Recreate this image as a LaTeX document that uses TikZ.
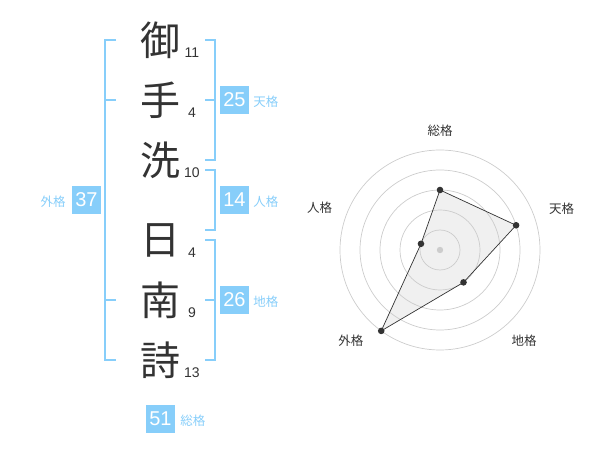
\documentclass[tikz,border=0pt]{standalone}
\usepackage{fontspec}
\setmainfont{Liberation Sans}
\newfontfamily\jpfont{Noto Sans CJK JP}
\usetikzlibrary{positioning}
\definecolor{kakublue}{HTML}{87CEFA}
\definecolor{inkgray}{HTML}{333333}
\definecolor{ringgray}{HTML}{CCCCCC}

\begin{document}
\begin{tikzpicture}[x=1pt,y=-1pt]
	\useasboundingbox (0,0) rectangle (600,470);

	\tikzstyle{kanji}=[text=inkgray,inner sep=0pt,
		font=\jpfont\fontsize{40}{40}\selectfont,
		node distance=60pt]
	\tikzstyle{strokes}=[text=inkgray,inner sep=0pt,
		font=\fontsize{14}{14}\selectfont]
	\tikzstyle{score}=[fill=kakublue,text=white,inner sep=0pt,
		minimum width=29pt,minimum height=28pt,
		font=\fontsize{20}{20}\selectfont]
	\tikzstyle{kind}=[text=kakublue,inner sep=0pt,
		font=\jpfont\fontsize{12.5}{13}\selectfont]
	\tikzstyle{axis}=[text=inkgray,inner sep=0pt,
		font=\jpfont\fontsize{12.5}{13}\selectfont]
	\tikzstyle{bracket}=[draw=kakublue,line width=2pt]

	% name
	\node[kanji]		(k1)	at (160,40)	{御};
	\node[kanji,below of=k1]	(k2)	{手};
	\node[kanji,below of=k2]	(k3)	{洗};
	\node[kanji]		(k4)	at (160,240)	{日};
	\node[kanji,below of=k4]	(k5)	{南};
	\node[kanji,below of=k5]	(k6)	{詩};

	\node[strokes]	(s1)	at (192,53)	{11};
	\node[strokes]	(s2)	at (192,113)	{4};
	\node[strokes]	(s3)	at (192,173)	{10};
	\node[strokes]	(s4)	at (192,253)	{4};
	\node[strokes]	(s5)	at (192,313)	{9};
	\node[strokes]	(s6)	at (192,373)	{13};

	% brackets
	\draw[bracket] (116,40) -- (105,40) -- (105,360) -- (116,360);
	\draw[bracket] (105,100) -- (116,100);
	\draw[bracket] (105,300) -- (116,300);
	\draw[bracket] (205,40) -- (215,40) -- (215,160) -- (205,160);
	\draw[bracket] (205,100) -- (215,100);
	\draw[bracket] (205,170) -- (215,170) -- (215,230) -- (205,230);
	\draw[bracket] (205,240) -- (215,240) -- (215,360) -- (205,360);
	\draw[bracket] (205,300) -- (215,300);

	% scores
	\node[score]	(ten)	at (234.5,100)	{25};
	\node[score]	(jin)	at (234.5,200)	{14};
	\node[score]	(chi)	at (234.5,300)	{26};
	\node[score]	(gai)	at (86.5,200)	{37};
	\node[score]	(sou)	at (160.5,419)	{51};
	\node[kind,right=4pt of ten.base east,anchor=base west]	{天格};
	\node[kind,right=4pt of jin.base east,anchor=base west]	{人格};
	\node[kind,right=4pt of chi.base east,anchor=base west]	{地格};
	\node[kind,left=6pt of gai.base west,anchor=base east]	{外格};
	\node[kind,right=5pt of sou.base east,anchor=base west]	{総格};

	% radar
	\begin{scope}[shift={(440,250)},yscale=-1]
		\coordinate (r1) at (90:60);
		\coordinate (r2) at (18:80);
		\coordinate (r3) at (-54:40);
		\coordinate (r4) at (-126:100);
		\coordinate (r5) at (162:20);
		\fill[black!6] (r1) -- (r2) -- (r3) -- (r4) -- (r5) -- cycle;
		\foreach \r in {20,40,...,100}
			\draw[ringgray,line width=0.7pt] (0,0) circle (\r);
		\fill[ringgray] (0,0) circle (3.2);
		\draw[inkgray,line width=0.7pt]
			(r1) -- (r2) -- (r3) -- (r4) -- (r5) -- cycle;
		\foreach \p in {r1,r2,r3,r4,r5}
			\fill[inkgray] (\p) circle (3.3);
		\node[axis]	(a1)	at (0,119.5)	{総格};
		\node[axis]	(a2)	at (121.7,41.7)	{天格};
		\node[axis]	(a3)	at (84,-90.7)	{地格};
		\node[axis]	(a4)	at (-89.2,-90.7)	{外格};
		\node[axis]	(a5)	at (-120.3,42.5)	{人格};
	\end{scope}

\end{tikzpicture}
\end{document}
